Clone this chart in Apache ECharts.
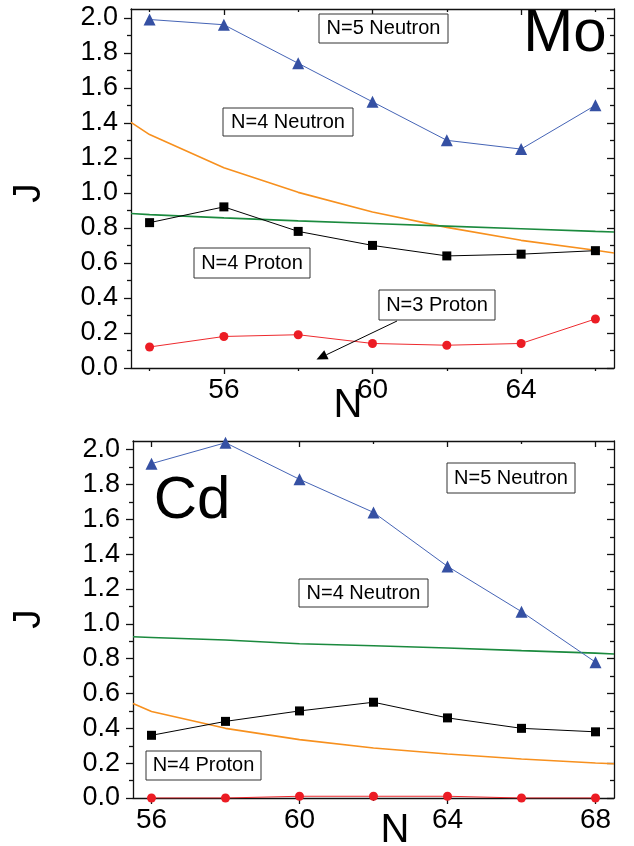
<!DOCTYPE html>
<html><head><meta charset="utf-8">
<script src="https://cdn.jsdelivr.net/npm/echarts@6/dist/echarts.min.js"></script>
<style>html,body{margin:0;padding:0;background:#fff}#c{width:634px;height:846px}</style>
</head><body><div id="c"></div>
<script>
// ---------- Mo panel data ----------
const moN = [54, 56, 58, 60, 62, 64, 66];
const moN5Neutron = [1.99, 1.96, 1.74, 1.52, 1.30, 1.25, 1.50];
const moSquares = [0.83, 0.92, 0.78, 0.70, 0.64, 0.65, 0.67];
const moN3Proton = [0.12, 0.18, 0.19, 0.14, 0.13, 0.14, 0.28];
const moCurveN = [53.5, 54, 56, 58, 60, 62, 64, 66, 66.5];
const moOrangeCurve = [1.403, 1.333, 1.143, 1.003, 0.891, 0.803, 0.729, 0.672, 0.657];
const moGreenCurve = [0.882, 0.876, 0.857, 0.840, 0.825, 0.810, 0.795, 0.780, 0.777];
const moXMajor = [56, 60, 64];
const moXMinor = [54, 58, 62, 66];

// ---------- Cd panel data ----------
const cdN = [56, 58, 60, 62, 64, 66, 68];
const cdN5Neutron = [1.92, 2.04, 1.83, 1.64, 1.33, 1.07, 0.78];
const cdSquares = [0.36, 0.44, 0.50, 0.55, 0.46, 0.40, 0.38];
const cdRed = [0.0, 0.0, 0.01, 0.01, 0.01, 0.0, 0.0];
const cdCurveN = [55.5, 56, 58, 60, 62, 64, 66, 68, 68.5];
const cdOrangeCurve = [0.543, 0.497, 0.400, 0.335, 0.287, 0.253, 0.224, 0.201, 0.197];
const cdGreenCurve = [0.926, 0.922, 0.907, 0.886, 0.874, 0.861, 0.846, 0.832, 0.827];
const cdXMajor = [56, 60, 64, 68];
const cdXMinor = [58, 62, 66];

// ---------- shared y ticks ----------
const yMajor = [0.0, 0.2, 0.4, 0.6, 0.8, 1.0, 1.2, 1.4, 1.6, 1.8, 2.0];
const yMinor = [0.1, 0.3, 0.5, 0.7, 0.9, 1.1, 1.3, 1.5, 1.7, 1.9];

const FONT = '"Liberation Sans", Arial, Helvetica, sans-serif';
const AX = {color: '#111', width: 1.3};

const zip = (xs, ys) => xs.map((x, i) => [x, ys[i]]);

function xAxes(gi, min, max, major, minor) {
  const base = {gridIndex: gi, type: 'value', min: min, max: max, splitLine: {show: false}};
  return [
    Object.assign({}, base, {position: 'bottom',
      axisLine: {show: true, onZero: false, lineStyle: AX},
      axisTick: {show: true, customValues: major, length: 6, lineStyle: AX},
      axisLabel: {show: true, customValues: major, fontSize: 28, color: '#000', margin: 8, fontFamily: FONT}}),
    Object.assign({}, base, {position: 'bottom',
      axisLine: {show: false, onZero: false},
      axisTick: {show: true, customValues: minor, length: 3, lineStyle: AX},
      axisLabel: {show: false}}),
    Object.assign({}, base, {position: 'top',
      axisLine: {show: true, onZero: false, lineStyle: AX},
      axisTick: {show: true, inside: true, customValues: major, length: 6, lineStyle: AX},
      axisLabel: {show: false}}),
    Object.assign({}, base, {position: 'top',
      axisLine: {show: false, onZero: false},
      axisTick: {show: true, inside: true, customValues: minor, length: 3, lineStyle: AX},
      axisLabel: {show: false}})
  ];
}
function yAxes(gi) {
  const base = {gridIndex: gi, type: 'value', min: 0, max: 2.05, splitLine: {show: false}};
  return [
    Object.assign({}, base, {position: 'left',
      axisLine: {show: true, onZero: false, lineStyle: AX},
      axisTick: {show: true, customValues: yMajor, length: 7, lineStyle: AX},
      axisLabel: {show: true, customValues: yMajor, fontSize: 27, color: '#000', margin: 13, fontFamily: FONT,
        formatter: v => Number(v).toFixed(1)}}),
    Object.assign({}, base, {position: 'left',
      axisLine: {show: false, onZero: false},
      axisTick: {show: true, customValues: yMinor, length: 4, lineStyle: AX},
      axisLabel: {show: false}}),
    Object.assign({}, base, {position: 'right',
      axisLine: {show: true, onZero: false, lineStyle: AX},
      axisTick: {show: true, inside: true, customValues: yMajor, length: 7, lineStyle: AX},
      axisLabel: {show: false}}),
    Object.assign({}, base, {position: 'right',
      axisLine: {show: false, onZero: false},
      axisTick: {show: true, inside: true, customValues: yMinor, length: 4, lineStyle: AX},
      axisLabel: {show: false}})
  ];
}

function panelSeries(xi, yi, n, blue, squares, red, cn, orange, green) {
  return [
    {type: 'line', name: 'N=4 Neutron', xAxisIndex: xi, yAxisIndex: yi, data: zip(cn, orange), showSymbol: false,
      lineStyle: {color: '#F7901E', width: 1.6}, itemStyle: {color: '#F7901E'}, z: 2},
    {type: 'line', name: 'N=4 Proton', xAxisIndex: xi, yAxisIndex: yi, data: zip(cn, green), showSymbol: false,
      lineStyle: {color: '#1B8A3E', width: 1.6}, itemStyle: {color: '#1B8A3E'}, z: 2},
    {type: 'line', name: 'N=5 Neutron', xAxisIndex: xi, yAxisIndex: yi, data: zip(n, blue), symbol: 'triangle', symbolSize: 12,
      lineStyle: {color: '#4564B6', width: 1}, itemStyle: {color: '#3550A3'}, z: 3},
    {type: 'line', name: 'Squares', xAxisIndex: xi, yAxisIndex: yi, data: zip(n, squares), symbol: 'rect', symbolSize: 9,
      lineStyle: {color: '#000', width: 1}, itemStyle: {color: '#000'}, z: 3},
    {type: 'line', name: 'N=3 Proton', xAxisIndex: xi, yAxisIndex: yi, data: zip(n, red), symbol: 'circle', symbolSize: 9,
      lineStyle: {color: '#EE2A2E', width: 1}, itemStyle: {color: '#EC1C24'}, z: 3}
  ];
}

function box(x1, y1, x2, y2, text) {
  return [
    {type: 'rect', shape: {x: x1, y: y1, width: x2 - x1, height: y2 - y1}, style: {fill: '#fff', stroke: '#333', lineWidth: 1}, z: 100},
    {type: 'text', x: (x1 + x2) / 2, y: (y1 + y2) / 2, style: {text: text, font: '20px ' + FONT, fill: '#000', align: 'center', verticalAlign: 'middle'}, z: 101}
  ];
}
function bigText(x, y, text, size, rot) {
  return {type: 'text', x: x, y: y, rotation: rot || 0, style: {text: text, font: size + 'px ' + FONT, fill: '#000', align: 'center', verticalAlign: 'middle'}, z: 101};
}
function arrow(x1, y1, x2, y2) {
  const dx = x2 - x1, dy = y2 - y1, L = Math.hypot(dx, dy), ux = dx / L, uy = dy / L;
  const hl = 11, hw = 5;
  const bx = x2 - ux * hl, by = y2 - uy * hl;
  return [
    {type: 'line', shape: {x1: x1, y1: y1, x2: bx, y2: by}, style: {stroke: '#000', lineWidth: 1}, z: 101},
    {type: 'polygon', shape: {points: [[x2, y2], [bx - uy * hw, by + ux * hw], [bx + uy * hw, by - ux * hw]]}, style: {fill: '#000'}, z: 101}
  ];
}

const option = {
  animation: false,
  backgroundColor: '#fff',
  grid: [
    {left: 131, top: 9, width: 483, height: 359},
    {left: 133, top: 441, width: 481, height: 357}
  ],
  xAxis: [].concat(xAxes(0, 53.5, 66.5, moXMajor, moXMinor), xAxes(1, 55.5, 68.5, cdXMajor, cdXMinor)),
  yAxis: [].concat(yAxes(0), yAxes(1)),
  series: [].concat(
    panelSeries(0, 0, moN, moN5Neutron, moSquares, moN3Proton, moCurveN, moOrangeCurve, moGreenCurve),
    panelSeries(4, 4, cdN, cdN5Neutron, cdSquares, cdRed, cdCurveN, cdOrangeCurve, cdGreenCurve)
  ),
  graphic: [].concat(
    box(319, 14, 448, 43, 'N=5 Neutron'),
    box(223, 108, 353, 136, 'N=4 Neutron'),
    box(194, 248, 310, 278, 'N=4 Proton'),
    box(379, 290, 495, 320, 'N=3 Proton'),
    arrow(397, 321, 316.5, 359.5),
    box(447, 463, 575, 493, 'N=5 Neutron'),
    box(299, 579, 428, 607, 'N=4 Neutron'),
    box(146, 751, 261, 780, 'N=4 Proton'),
    [
      bigText(565, 34, 'Mo', 60),
      bigText(192, 501, 'Cd', 60),
      bigText(348, 406, 'N', 40),
      bigText(395, 831, 'N', 40),
      bigText(29, 193, 'J', 39, Math.PI / 2),
      bigText(29, 619, 'J', 39, Math.PI / 2)
    ]
  )
};
echarts.init(document.getElementById('c'), null, {renderer: 'canvas'}).setOption(option);
</script></body></html>
